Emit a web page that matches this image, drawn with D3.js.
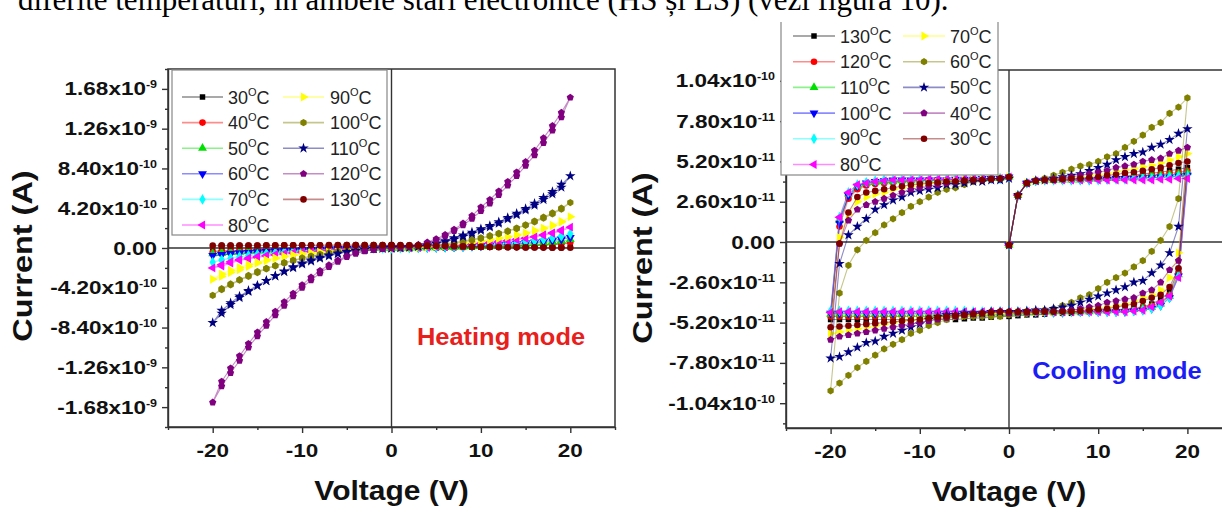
<!DOCTYPE html>
<html><head><meta charset="utf-8">
<script src="https://cdn.jsdelivr.net/npm/d3@7"></script>
<style>
body{margin:0;background:#fff;overflow:hidden}
svg{display:block}
text{font-family:Arial,"Liberation Sans",sans-serif}
text.doc{font-family:"Liberation Serif","Times New Roman",serif}
</style>
</head><body>
<svg id="c" width="1222" height="507"></svg>
<script>
// ---------------- DATA ----------------
// Voltage sweep: 0 -> 20 -> 0 -> -20 -> 0 (V)
const sweepV = [0,1,2,3,4,5,6,7,8,9,10,11,12,13,14,15,16,17,18,19,20,
  19,18,17,16,15,14,13,12,11,10,9,8,7,6,5,4,3,2,1,0,
  -1,-2,-3,-4,-5,-6,-7,-8,-9,-10,-11,-12,-13,-14,-15,-16,-17,-18,-19,-20,
  -19,-18,-17,-16,-15,-14,-13,-12,-11,-10,-9,-8,-7,-6,-5,-4,-3,-2,-1,0];

// Heating mode currents, in units of 1e-10 A
const heatUnit = 1e-10;
const heatLabels = ["30","40","50","60","70","80","90","100","110","120","130"];
const heat30 = [0,0.01,0.01,0.02,0.03,0.04,0.05,0.06,0.08,0.1,0.12,0.14,0.16,0.19,0.22,0.25,0.28,0.32,0.37,0.43,0.5,
  0.42,0.36,0.31,0.27,0.23,0.2,0.17,0.15,0.13,0.11,0.09,0.07,0.05,0.04,0.03,0.02,0.01,0.01,0,0,
  -0.01,-0.01,-0.02,-0.03,-0.04,-0.05,-0.06,-0.08,-0.1,-0.12,-0.14,-0.16,-0.18,-0.2,-0.22,-0.25,-0.28,-0.3,-0.33,-0.35,
  -0.3,-0.27,-0.24,-0.21,-0.19,-0.17,-0.15,-0.13,-0.11,-0.09,-0.08,-0.06,-0.05,-0.04,-0.03,-0.02,-0.01,-0.01,0,0];
const heat40 = [0,0.01,0.02,0.03,0.04,0.05,0.06,0.08,0.1,0.12,0.14,0.17,0.2,0.23,0.26,0.3,0.34,0.39,0.45,0.52,0.6,
  0.5,0.44,0.38,0.33,0.29,0.25,0.22,0.19,0.16,0.13,0.11,0.09,0.07,0.05,0.04,0.03,0.02,0.01,0,0,
  -0.01,-0.02,-0.03,-0.04,-0.05,-0.06,-0.08,-0.1,-0.12,-0.14,-0.16,-0.19,-0.22,-0.25,-0.28,-0.31,-0.34,-0.37,-0.41,-0.45,
  -0.39,-0.35,-0.31,-0.28,-0.25,-0.22,-0.19,-0.16,-0.14,-0.12,-0.1,-0.08,-0.06,-0.05,-0.04,-0.03,-0.02,-0.01,0,0];
const heat50 = [0,0.01,0.02,0.03,0.04,0.06,0.08,0.1,0.13,0.16,0.19,0.23,0.27,0.32,0.37,0.43,0.5,0.57,0.65,0.77,0.9,
  0.75,0.64,0.55,0.47,0.41,0.35,0.3,0.25,0.21,0.17,0.14,0.11,0.08,0.06,0.04,0.03,0.02,0.01,0,0,
  -0.01,-0.02,-0.03,-0.04,-0.05,-0.07,-0.09,-0.11,-0.13,-0.16,-0.19,-0.22,-0.26,-0.3,-0.34,-0.38,-0.43,-0.48,-0.54,-0.6,
  -0.52,-0.46,-0.41,-0.36,-0.32,-0.28,-0.25,-0.21,-0.18,-0.15,-0.13,-0.1,-0.08,-0.06,-0.04,-0.03,-0.02,-0.01,0,0];
const heat60 = [0,0.01,0.02,0.03,0.05,0.07,0.1,0.13,0.16,0.2,0.24,0.29,0.34,0.4,0.46,0.53,0.6,0.7,0.8,0.95,1.1,
  0.92,0.8,0.69,0.59,0.51,0.44,0.37,0.31,0.26,0.21,0.17,0.13,0.1,0.07,0.05,0.03,0.02,0.01,0,0,
  -0.01,-0.02,-0.03,-0.05,-0.07,-0.09,-0.12,-0.15,-0.18,-0.22,-0.26,-0.3,-0.35,-0.4,-0.45,-0.5,-0.56,-0.63,-0.72,-0.8,
  -0.68,-0.6,-0.53,-0.47,-0.42,-0.37,-0.32,-0.28,-0.24,-0.2,-0.16,-0.13,-0.1,-0.07,-0.05,-0.03,-0.02,-0.01,0,0];
const heat70 = [0,0.01,0.02,0.04,0.07,0.1,0.14,0.18,0.23,0.28,0.34,0.4,0.47,0.55,0.63,0.72,0.82,0.95,1.1,1.3,1.5,
  1.25,1.07,0.92,0.8,0.69,0.59,0.5,0.42,0.35,0.29,0.23,0.18,0.14,0.1,0.07,0.04,0.02,0.01,0,0,
  -0.01,-0.02,-0.04,-0.07,-0.1,-0.14,-0.18,-0.23,-0.28,-0.34,-0.4,-0.47,-0.55,-0.63,-0.72,-0.82,-0.95,-1.1,-1.3,-1.5,
  -1.25,-1.07,-0.92,-0.8,-0.69,-0.59,-0.5,-0.42,-0.35,-0.29,-0.23,-0.18,-0.14,-0.1,-0.07,-0.04,-0.02,-0.01,0,0];
const heat80 = [0,0.01,0.03,0.06,0.1,0.15,0.2,0.27,0.34,0.42,0.5,0.6,0.7,0.8,0.92,1.05,1.2,1.4,1.6,1.9,2.2,
  1.8,1.55,1.35,1.17,1.01,0.87,0.75,0.64,0.54,0.45,0.37,0.3,0.23,0.17,0.12,0.08,0.05,0.02,0.01,0,
  -0.01,-0.03,-0.06,-0.1,-0.15,-0.2,-0.26,-0.33,-0.4,-0.48,-0.56,-0.65,-0.75,-0.85,-1.0,-1.15,-1.3,-1.6,-1.9,-2.1,
  -1.75,-1.45,-1.22,-1.05,-0.9,-0.78,-0.68,-0.59,-0.5,-0.42,-0.35,-0.29,-0.23,-0.17,-0.12,-0.08,-0.05,-0.02,-0.01,0];
const heat90 = [0,0.02,0.05,0.1,0.15,0.22,0.3,0.4,0.5,0.6,0.75,0.9,1.05,1.2,1.4,1.6,1.85,2.1,2.4,2.8,3.3,
  2.75,2.35,2.05,1.8,1.55,1.35,1.15,1.0,0.85,0.7,0.57,0.46,0.36,0.27,0.19,0.12,0.07,0.03,0.01,0,
  -0.02,-0.05,-0.1,-0.15,-0.2,-0.28,-0.36,-0.45,-0.55,-0.65,-0.75,-0.9,-1.1,-1.35,-1.6,-1.95,-2.3,-2.6,-3.0,-3.3,
  -2.75,-2.35,-2.05,-1.75,-1.5,-1.25,-1.05,-0.88,-0.74,-0.62,-0.52,-0.42,-0.34,-0.26,-0.19,-0.12,-0.07,-0.03,-0.01,0];
const heat100 = [0,0.03,0.08,0.14,0.22,0.32,0.44,0.58,0.74,0.9,1.08,1.3,1.55,1.8,2.1,2.45,2.85,3.25,3.7,4.2,4.8,
  4.1,3.6,3.15,2.75,2.4,2.05,1.75,1.5,1.25,1.02,0.82,0.65,0.5,0.37,0.26,0.17,0.1,0.05,0.02,0,
  -0.02,-0.06,-0.12,-0.2,-0.3,-0.4,-0.55,-0.7,-0.9,-1.1,-1.35,-1.6,-1.9,-2.2,-2.6,-3.0,-3.4,-3.9,-4.4,-5.0,
  -4.3,-3.8,-3.35,-2.9,-2.5,-2.15,-1.85,-1.55,-1.3,-1.05,-0.85,-0.67,-0.5,-0.37,-0.26,-0.17,-0.1,-0.05,-0.02,0];
const heat110 = [0,0.05,0.1,0.2,0.3,0.5,0.75,1.05,1.35,1.65,2.0,2.35,2.75,3.2,3.65,4.15,4.7,5.3,5.95,6.7,7.6,
  6.4,5.7,5.1,4.5,4.0,3.5,3.05,2.6,2.2,1.85,1.5,1.2,0.9,0.65,0.45,0.28,0.15,0.07,0.02,0,
  -0.03,-0.08,-0.15,-0.25,-0.38,-0.55,-0.75,-1.0,-1.3,-1.6,-2.0,-2.45,-2.95,-3.45,-4.0,-4.6,-5.25,-6.0,-6.9,-7.9,
  -6.6,-5.8,-5.1,-4.5,-3.95,-3.45,-2.95,-2.5,-2.1,-1.7,-1.4,-1.1,-0.85,-0.62,-0.43,-0.28,-0.16,-0.08,-0.03,0];
const heat120 = [0,0.1,0.2,0.35,0.6,0.95,1.4,1.95,2.6,3.4,4.3,5.1,6.0,7.0,8.0,9.1,10.3,11.6,12.9,14.3,15.9,
  13.8,12.4,11.1,9.8,8.7,7.6,6.6,5.6,4.7,3.9,3.1,2.4,1.8,1.25,0.8,0.5,0.28,0.14,0.05,0,
  -0.1,-0.2,-0.35,-0.6,-0.95,-1.45,-2.0,-2.65,-3.4,-4.2,-5.1,-6.1,-7.1,-8.2,-9.3,-10.5,-11.9,-13.2,-14.6,-16.3,
  -14.1,-12.7,-11.4,-10.1,-8.9,-7.8,-6.7,-5.7,-4.8,-3.9,-3.1,-2.4,-1.8,-1.3,-0.85,-0.5,-0.28,-0.14,-0.05,0];
const heat130 = [0.3,0.3,0.28,0.26,0.24,0.22,0.2,0.18,0.16,0.14,0.12,0.1,0.09,0.08,0.07,0.06,0.05,0.04,0.03,0.02,0.02,
  0.02,0.03,0.04,0.05,0.06,0.07,0.08,0.1,0.11,0.13,0.15,0.17,0.19,0.21,0.23,0.25,0.27,0.28,0.29,0.3,
  0.3,0.3,0.3,0.3,0.3,0.29,0.29,0.29,0.28,0.28,0.28,0.28,0.27,0.27,0.27,0.26,0.26,0.25,0.25,0.25,
  0.26,0.26,0.27,0.27,0.27,0.28,0.28,0.28,0.29,0.29,0.29,0.29,0.3,0.3,0.3,0.3,0.3,0.3,0.3,0.3];
const heatSeries = [heat30,heat40,heat50,heat60,heat70,heat80,heat90,heat100,heat110,heat120,heat130];

// Cooling mode currents, in units of 1e-11 A
const coolUnit = 1e-11;
const coolLabels = ["130","120","110","100","90","80","70","60","50","40","30"];
const cool130 = [-0.2,3.0,3.8,3.95,4.0,4.0,4.0,4.05,4.05,4.1,4.1,4.15,4.2,4.25,4.3,4.4,4.45,4.5,4.6,4.7,4.8,
  -1.8,-3.2,-3.7,-4.0,-4.2,-4.3,-4.35,-4.4,-4.45,-4.5,-4.5,-4.55,-4.6,-4.6,-4.6,-4.65,-4.7,-4.7,-4.75,-4.8,
  -4.8,-4.85,-4.9,-4.9,-4.95,-5.0,-5.0,-5.0,-5.0,-5.0,-5.0,-5.0,-5.0,-5.0,-5.0,-5.0,-5.0,-5.0,-5.0,-5.0,
  1.5,2.9,3.5,3.7,3.8,3.85,3.9,3.9,3.95,3.95,4.0,4.0,4.0,4.0,4.0,4.05,4.05,4.1,4.1,4.2];
const cool120 = [-0.2,3.0,3.8,3.95,4.0,4.0,4.0,4.0,4.05,4.05,4.1,4.1,4.15,4.2,4.25,4.3,4.35,4.4,4.45,4.5,4.6,
  -2.0,-3.4,-3.9,-4.1,-4.25,-4.3,-4.35,-4.4,-4.4,-4.45,-4.45,-4.5,-4.5,-4.5,-4.55,-4.55,-4.6,-4.6,-4.6,-4.65,
  -4.65,-4.7,-4.7,-4.7,-4.75,-4.75,-4.75,-4.8,-4.8,-4.8,-4.8,-4.8,-4.8,-4.8,-4.8,-4.8,-4.8,-4.8,-4.8,-4.8,
  1.0,2.8,3.4,3.65,3.75,3.8,3.85,3.9,3.9,3.95,3.95,4.0,4.0,4.0,4.0,4.05,4.05,4.1,4.1,4.2];
const cool110 = [-0.2,3.0,3.8,3.95,4.0,4.0,4.0,4.0,4.0,4.05,4.05,4.1,4.1,4.15,4.2,4.25,4.3,4.3,4.35,4.4,4.5,
  -2.1,-3.5,-4.0,-4.2,-4.3,-4.35,-4.4,-4.4,-4.45,-4.45,-4.5,-4.5,-4.5,-4.5,-4.5,-4.5,-4.55,-4.55,-4.55,-4.6,
  -4.6,-4.6,-4.6,-4.6,-4.6,-4.65,-4.65,-4.65,-4.65,-4.65,-4.65,-4.65,-4.65,-4.65,-4.65,-4.65,-4.65,-4.65,-4.65,-4.65,
  1.4,3.1,3.6,3.8,3.85,3.9,3.9,3.95,3.95,4.0,4.0,4.0,4.0,4.0,4.05,4.05,4.05,4.1,4.1,4.2];
const cool100 = [-0.2,3.0,3.8,3.95,4.0,4.0,4.0,4.0,4.0,4.0,4.05,4.05,4.1,4.1,4.1,4.15,4.15,4.2,4.2,4.25,4.3,
  -2.2,-3.6,-4.1,-4.3,-4.4,-4.45,-4.5,-4.5,-4.5,-4.5,-4.5,-4.5,-4.5,-4.55,-4.55,-4.55,-4.55,-4.55,-4.6,-4.6,
  -4.6,-4.6,-4.6,-4.6,-4.6,-4.6,-4.6,-4.6,-4.6,-4.6,-4.6,-4.6,-4.6,-4.6,-4.6,-4.6,-4.6,-4.6,-4.6,-4.6,
  1.2,3.0,3.6,3.8,3.9,3.95,4.0,4.0,4.0,4.0,4.0,4.0,4.0,4.05,4.05,4.05,4.1,4.1,4.1,4.2];
const cool90 = [-0.2,3.0,3.8,3.95,4.0,4.0,4.0,4.0,4.0,4.0,4.0,4.05,4.05,4.05,4.1,4.1,4.1,4.15,4.2,4.25,4.3,
  -2.2,-3.6,-4.1,-4.3,-4.4,-4.45,-4.45,-4.5,-4.5,-4.5,-4.5,-4.5,-4.5,-4.5,-4.5,-4.5,-4.5,-4.5,-4.5,-4.5,
  -4.5,-4.5,-4.5,-4.5,-4.45,-4.45,-4.45,-4.45,-4.45,-4.45,-4.45,-4.45,-4.45,-4.45,-4.45,-4.45,-4.45,-4.45,-4.45,-4.45,
  1.6,3.2,3.7,3.85,3.95,4.0,4.0,4.0,4.0,4.0,4.0,4.0,4.05,4.05,4.05,4.1,4.1,4.1,4.1,4.2];
const cool80 = [-0.2,3.0,3.8,3.95,4.0,4.0,4.0,4.0,4.0,4.0,4.0,4.0,4.0,4.0,4.0,4.0,4.0,4.05,4.05,4.1,4.1,
  -2.3,-3.5,-3.9,-4.2,-4.4,-4.45,-4.5,-4.5,-4.5,-4.5,-4.5,-4.5,-4.5,-4.5,-4.5,-4.5,-4.5,-4.5,-4.5,-4.5,
  -4.5,-4.5,-4.5,-4.5,-4.5,-4.5,-4.5,-4.5,-4.5,-4.5,-4.5,-4.5,-4.5,-4.5,-4.5,-4.5,-4.5,-4.5,-4.5,-4.55,
  1.6,3.2,3.7,3.8,3.9,3.95,4.0,4.0,4.0,4.0,4.05,4.05,4.05,4.05,4.1,4.1,4.1,4.1,4.1,4.2];
const cool70 = [-0.2,3.0,3.8,3.95,4.0,4.05,4.1,4.15,4.2,4.3,4.35,4.45,4.55,4.65,4.75,4.85,4.95,5.1,5.3,5.5,5.7,
  -0.7,-2.3,-3.1,-3.4,-3.6,-3.8,-4.0,-4.1,-4.2,-4.25,-4.3,-4.35,-4.4,-4.45,-4.5,-4.5,-4.5,-4.55,-4.55,-4.6,
  -4.6,-4.6,-4.65,-4.7,-4.75,-4.8,-4.85,-4.9,-4.95,-5.0,-5.05,-5.1,-5.2,-5.3,-5.4,-5.5,-5.6,-5.7,-5.8,-5.9,
  0.3,1.8,2.6,2.9,3.1,3.2,3.4,3.5,3.6,3.7,3.8,3.85,3.9,3.95,4.0,4.0,4.0,4.05,4.1,4.2];
const cool60 = [-0.2,3.0,3.8,3.95,4.1,4.3,4.5,4.7,4.9,5.0,5.2,5.5,5.7,6.1,6.5,6.9,7.4,7.7,8.3,8.7,9.3,
  2.8,1.0,0.1,-0.6,-1.2,-1.6,-2.0,-2.3,-2.6,-3.0,-3.4,-3.6,-3.9,-4.1,-4.3,-4.4,-4.5,-4.6,-4.6,-4.7,
  -4.8,-4.8,-4.8,-4.8,-4.8,-4.8,-5.0,-5.2,-5.4,-5.7,-5.9,-6.3,-6.6,-6.9,-7.3,-7.7,-8.1,-8.6,-9.1,-9.6,
  -3.3,-1.5,-0.5,0.1,0.6,1.1,1.5,1.9,2.3,2.6,2.9,3.2,3.4,3.5,3.7,3.9,4.0,4.1,4.1,4.2];
const cool50 = [-0.2,3.0,3.8,3.95,4.0,4.1,4.2,4.3,4.4,4.6,4.8,5.0,5.3,5.5,5.7,5.8,6.1,6.3,6.6,7.0,7.3,
  1.0,-0.7,-1.5,-2.0,-2.5,-2.6,-2.9,-3.1,-3.3,-3.5,-3.7,-3.9,-4.1,-4.2,-4.3,-4.4,-4.4,-4.45,-4.5,-4.5,
  -4.5,-4.5,-4.6,-4.6,-4.6,-4.7,-4.7,-4.8,-5.0,-5.3,-5.5,-5.7,-5.9,-6.1,-6.4,-6.5,-6.8,-7.1,-7.4,-7.5,
  -1.4,0.45,1.0,1.5,2.1,2.4,2.7,2.9,3.2,3.3,3.4,3.5,3.7,3.7,3.8,3.9,3.9,4.0,4.0,4.1];
const cool40 = [-0.2,3.0,3.8,3.95,4.0,4.05,4.1,4.2,4.3,4.4,4.5,4.6,4.8,4.9,5.0,5.2,5.3,5.4,5.7,5.9,6.1,
  -1.2,-1.8,-2.6,-3.1,-3.3,-3.6,-3.7,-3.8,-3.9,-4.1,-4.2,-4.3,-4.4,-4.45,-4.5,-4.5,-4.5,-4.55,-4.55,-4.6,
  -4.5,-4.5,-4.6,-4.6,-4.7,-4.8,-4.9,-5.0,-5.1,-5.2,-5.3,-5.4,-5.5,-5.6,-5.7,-5.8,-5.9,-6.0,-6.1,-6.3,
  -0.1,1.4,2.1,2.4,2.6,2.8,3.0,3.2,3.4,3.5,3.6,3.7,3.8,3.9,4.0,4.0,4.0,4.1,4.1,4.2];
const cool30 = [-0.2,3.0,3.8,3.95,4.0,4.0,4.05,4.1,4.1,4.15,4.2,4.3,4.35,4.45,4.5,4.6,4.7,4.8,4.95,5.1,5.2,
  -1.7,-2.9,-3.4,-3.6,-3.8,-4.0,-4.1,-4.2,-4.3,-4.35,-4.4,-4.45,-4.5,-4.5,-4.5,-4.5,-4.5,-4.5,-4.5,-4.5,
  -4.5,-4.55,-4.6,-4.65,-4.7,-4.75,-4.8,-4.85,-4.9,-5.0,-5.05,-5.1,-5.15,-5.2,-5.25,-5.3,-5.35,-5.4,-5.45,-5.5,
  -0.1,1.9,2.9,3.2,3.3,3.4,3.5,3.6,3.7,3.75,3.8,3.85,3.9,3.9,3.95,4.0,4.0,4.05,4.1,4.2];
const coolSeries = [cool130,cool120,cool110,cool100,cool90,cool80,cool70,cool60,cool50,cool40,cool30];

// Tick values
const heatYTicks = [-1.68e-9,-1.26e-9,-8.4e-10,-4.2e-10,0,4.2e-10,8.4e-10,1.26e-9,1.68e-9];
const coolYTicks = [-1.04e-10,-7.8e-11,-5.2e-11,-2.6e-11,0,2.6e-11,5.2e-11,7.8e-11,1.04e-10];
const voltTicks = [-20,-10,0,10,20];
const voltMinorTicks = [-25,-15,-5,5,15,25];

// ---------------- STYLE ----------------
const palette = ['#000000','#ff0000','#00e000','#0000ff','#00ffff','#ff00ff','#ffff00','#808000','#000080','#800080','#800000'];
const symKinds = ['square','circle','triUp','triDown','diamond','triLeft','triRight','hexagon','star','pentagon','circle'];
const axisColor = '#333';

const hexagon = {draw(ctx,size){const r=Math.sqrt(size/2.598);for(let i=0;i<6;i++){const a=Math.PI/3*i+Math.PI/6;const px=r*Math.cos(a),py=r*Math.sin(a);i?ctx.lineTo(px,py):ctx.moveTo(px,py);}ctx.closePath();}};
const pentagon = {draw(ctx,size){const r=Math.sqrt(size/2.378);for(let i=0;i<5;i++){const a=2*Math.PI/5*i-Math.PI/2;const px=r*Math.cos(a),py=r*Math.sin(a);i?ctx.lineTo(px,py):ctx.moveTo(px,py);}ctx.closePath();}};
function markerOf(kind){
  const S=34;
  switch(kind){
    case 'square': return {d:d3.symbol(d3.symbolSquare,30)(),r:0};
    case 'circle': return {d:d3.symbol(d3.symbolCircle,S)(),r:0};
    case 'triUp': return {d:d3.symbol(d3.symbolTriangle,S)(),r:0};
    case 'triDown': return {d:d3.symbol(d3.symbolTriangle,S)(),r:180};
    case 'diamond': return {d:d3.symbol(d3.symbolDiamond,S)(),r:0};
    case 'triLeft': return {d:d3.symbol(d3.symbolTriangle,S)(),r:-90};
    case 'triRight': return {d:d3.symbol(d3.symbolTriangle,S)(),r:90};
    case 'hexagon': return {d:d3.symbol(hexagon,S)(),r:0};
    case 'star': return {d:d3.symbol(d3.symbolStar,S)(),r:0};
    case 'pentagon': return {d:d3.symbol(pentagon,S)(),r:0};
  }
}

const svg = d3.select('#c');

function sciParts(v){
  if(v===0) return ['0.00',null];
  const e=Math.floor(Math.log10(Math.abs(v))+1e-9);
  const m=v/Math.pow(10,e);
  return [m.toFixed(2)+'x10', String(e)];
}
function stext(parent,x,y,sx,anchor,rot){
  return parent.append('g')
    .attr('transform',`translate(${x},${y})`+(rot?` rotate(${rot})`:'')+` scale(${sx},1)`)
    .append('text').attr('text-anchor',anchor);
}

function drawPanel(p){
  const x=d3.scaleLinear().domain([-25,25]).range([p.x0,p.x1]);
  const y=d3.scaleLinear().domain(p.yDomain).range([p.yBottom,p.yTop]);
  const g=svg.append('g');
  g.append('rect').attr('x',p.x0).attr('y',p.yTop).attr('width',p.x1-p.x0).attr('height',p.yBottom-p.yTop)
    .attr('fill','none').attr('stroke',axisColor).attr('stroke-width',1.5);
  g.append('line').attr('x1',x(-25)).attr('x2',x(25)).attr('y1',y(0)).attr('y2',y(0))
    .attr('stroke',axisColor).attr('stroke-width',1.4);
  g.append('line').attr('x1',x(0)).attr('x2',x(0)).attr('y1',p.yTop).attr('y2',p.yBottom)
    .attr('stroke',axisColor).attr('stroke-width',1.4);
  const line=d3.line().x(d=>x(d[0])).y(d=>y(d[1]));
  p.series.forEach((vals,i)=>{
    const pts=sweepV.map((v,k)=>[v,vals[k]*p.unit]);
    const sg=g.append('g');
    sg.append('path').datum(pts).attr('d',line).attr('fill','none')
      .attr('stroke',palette[i]).attr('stroke-opacity',0.45).attr('stroke-width',1.1);
    const m=markerOf(symKinds[i]);
    sg.selectAll('path.m').data(pts).enter().append('path').attr('class','m')
      .attr('d',m.d).attr('fill',palette[i])
      .attr('transform',d=>`translate(${x(d[0])},${y(d[1])}) rotate(${m.r})`);
  });
  const yMinor=d3.range(-20,21).map(k=>k*p.minorStep).filter(v=>Math.abs(Math.round(v/p.minorStep))%2===1 && v>=p.yDomain[0]-1e-20 && v<=p.yDomain[1]+1e-20);
  const ax=g.append('g').attr('transform',`translate(${p.x0},0)`);
  ax.call(d3.axisLeft(y).tickValues(p.yTicks).tickSize(6).tickSizeOuter(0).tickFormat(''));
  ax.append('g').call(d3.axisLeft(y).tickValues(yMinor).tickSize(3).tickFormat('')).select('.domain').remove();
  const bx=g.append('g').attr('transform',`translate(0,${p.yBottom})`);
  bx.call(d3.axisBottom(x).tickValues(voltTicks).tickSize(6).tickSizeOuter(0).tickFormat(''));
  bx.append('g').call(d3.axisBottom(x).tickValues(voltMinorTicks).tickSize(3).tickFormat('')).select('.domain').remove();
  g.selectAll('.domain, .tick line').attr('stroke',axisColor).attr('stroke-width',1.4);
  p.yTicks.forEach(v=>{
    const [a,e]=sciParts(v);
    const t=stext(g,p.x0-11,y(v)+6.5,1.25,'end').attr('font-size',18).attr('font-weight','bold').attr('fill','#111');
    t.append('tspan').text(a);
    if(e) t.append('tspan').attr('font-size',10).attr('dy',-7).text(e);
  });
  voltTicks.forEach(v=>{
    stext(g,x(v),p.yBottom+30,1.25,'middle').attr('font-size',18).attr('font-weight','bold').attr('fill','#111').text(String(v));
  });
  stext(g,(p.x0+p.x1)/2,p.yBottom+73,1.11,'middle').attr('font-size',27).attr('font-weight','bold').attr('fill','#111').text('Voltage (V)');
  stext(g,p.yTitleX,p.yTitleY,1.16,'middle',-90).attr('font-size',28).attr('font-weight','bold').attr('fill','#111').text('Current (A)');
  stext(g,p.modeX,p.modeY,1.06,'middle').attr('font-size',24).attr('font-weight','bold').attr('fill',p.modeColor).text(p.modeText);
  const L=p.legend;
  const lg=svg.append('g');
  lg.append('rect').attr('x',L.x).attr('y',L.y).attr('width',L.w).attr('height',L.h)
    .attr('fill','#fff').attr('stroke','#888').attr('stroke-width',1.2);
  p.labels.forEach((lbl,i)=>{
    const col=i<6?0:1,row=i%6;
    const cy=L.row0+row*L.rowH;
    const c=L.cols[col];
    const m=markerOf(symKinds[i]);
    lg.append('line').attr('x1',c.l0).attr('x2',c.l1).attr('y1',cy).attr('y2',cy)
      .attr('stroke',palette[i]).attr('stroke-opacity',0.45).attr('stroke-width',1.6);
    lg.append('path').attr('d',m.d).attr('fill',palette[i]).attr('transform',`translate(${(c.l0+c.l1)/2},${cy}) rotate(${m.r})`);
    const t=lg.append('text').attr('x',c.t).attr('y',cy+6.5).attr('font-size',18).attr('fill','#222');
    t.append('tspan').text(lbl);
    t.append('tspan').attr('font-size',11).attr('dy',-8).text('O');
    t.append('tspan').attr('dy',8).text('C');
  });
}

drawPanel({
  x0:168,x1:615,yTop:69,yBottom:427,yDomain:[-1.89e-9,1.89e-9],unit:heatUnit,minorStep:2.1e-10,
  yTicks:heatYTicks,series:heatSeries,labels:heatLabels,yTitleX:32,yTitleY:256,
  modeText:'Heating mode',modeColor:'#e8201c',modeX:501,modeY:345,
  legend:{x:172,y:70,w:215,h:165,row0:97,rowH:25.6,cols:[{l0:182,l1:223,t:228},{l0:283,l1:324,t:330}]}
});
drawPanel({
  x0:786,x1:1232,yTop:70,yBottom:428,yDomain:[-1.2e-10,1.11e-10],unit:coolUnit,minorStep:1.3e-11,
  yTicks:coolYTicks,series:coolSeries,labels:coolLabels,yTitleX:652,yTitleY:258,
  modeText:'Cooling mode',modeColor:'#1c1cf5',modeX:1117,modeY:379,
  legend:{x:781,y:12,w:217,h:163,row0:36,rowH:25.7,cols:[{l0:793,l1:835,t:840},{l0:903,l1:945,t:950}]}
});

// document text line, cut by the top edge as in the source image
svg.append('rect').attr('x',0).attr('y',0).attr('width',1222).attr('height',22).attr('fill','#fff');
svg.append('text').attr('class','doc').attr('x',18).attr('y',10)
  .attr('font-size',31).attr('fill','#000')
  .text('diferite temperaturi, în ambele stări electronice (HS și LS) (vezi figura 10).');
</script>
</body></html>
